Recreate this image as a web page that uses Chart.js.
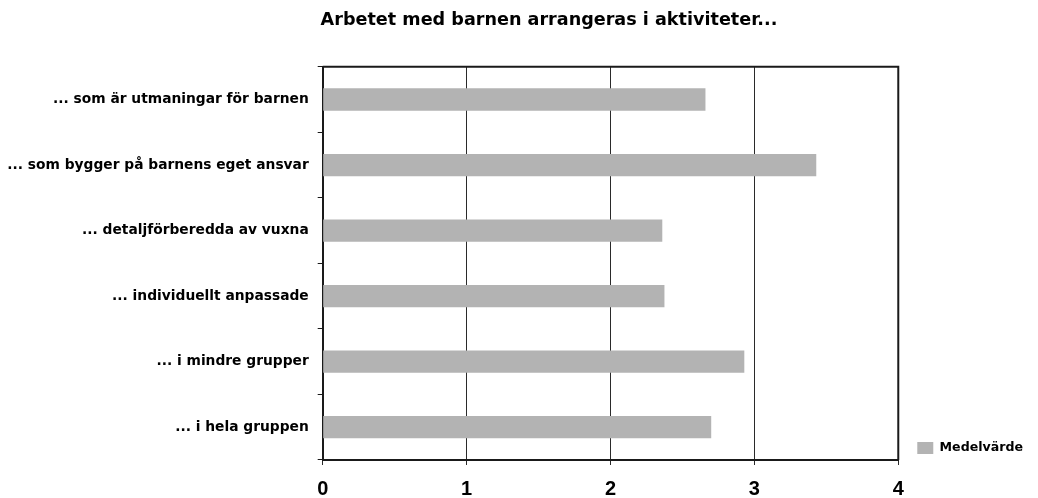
<!DOCTYPE html>
<html>
<head>
<meta charset="utf-8">
<script src="https://cdn.jsdelivr.net/npm/chart.js@4/dist/chart.umd.min.js"></script>
<style>
  html, body { margin: 0; padding: 0; background: #ffffff; }
  #wrap { width: 1038px; height: 498px; position: relative; }
</style>
</head>
<body>
<div id="wrap"><canvas id="c" width="1038" height="498"></canvas></div>
<script>
const chartTitle = "Arbetet med barnen arrangeras i aktiviteter...";
const categories = [
  "... som är utmaningar för barnen",
  "... som bygger på barnens eget ansvar",
  "... detaljförberedda av vuxna",
  "... individuellt anpassade",
  "... i mindre grupper",
  "... i hela gruppen"
];
const seriesName = "Medelvärde";
const medelvarde = [2.66, 3.43, 2.36, 2.375, 2.93, 2.70];
const xTicks = [0, 1, 2, 3, 4];

const FONT = "'DejaVu Sans', sans-serif";
const TICKFONT = "'Liberation Sans', Arial, sans-serif";

const framePlugin = {
  id: 'frame',
  afterDatasetsDraw(chart) {
    const a = chart.chartArea;
    const ctx = chart.ctx;
    ctx.save();
    ctx.strokeStyle = '#1a1a1a';
    ctx.lineWidth = 2;
    ctx.beginPath();
    ctx.moveTo(a.left, a.top);
    ctx.lineTo(a.right, a.top);
    ctx.lineTo(a.right, a.bottom);
    ctx.stroke();
    ctx.restore();
  }
};

const layoutTweaks = {
  id: 'layoutTweaks',
  afterLayout(chart) {
    if (chart.legend) {
      chart.legend.top += 13.3;
      chart.legend.bottom += 13.3;
    }
    if (chart.titleBlock) {
      chart.titleBlock.left += 60;
    }
  }
};

new Chart(document.getElementById('c'), {
  type: 'bar',
  data: {
    labels: categories,
    datasets: [{
      label: seriesName,
      data: medelvarde,
      backgroundColor: '#b3b3b3',
      borderWidth: 0,
      barPercentage: 1,
      categoryPercentage: 0.34
    }]
  },
  options: {
    indexAxis: 'y',
    responsive: false,
    animation: false,
    devicePixelRatio: 1,
    layout: { padding: { left: 5, right: 5, top: 0, bottom: 0 } },
    plugins: {
      title: {
        display: true,
        text: chartTitle,
        color: '#000',
        font: { family: FONT, size: 17.6, weight: 'bold' },
        padding: { top: 10, bottom: 35.6 }
      },
      legend: {
        display: true,
        position: 'right',
        align: 'end',
        fullSize: false,
        maxWidth: 140,
        labels: {
          color: '#000',
          boxWidth: 16,
          boxHeight: 12,
          padding: 19,
          font: { family: FONT, size: 12.6, weight: 'bold' }
        }
      },
      tooltip: { enabled: false }
    },
    scales: {
      x: {
        type: 'linear',
        min: xTicks[0],
        max: xTicks[xTicks.length - 1],
        afterBuildTicks(scale) { scale.ticks = xTicks.map(v => ({ value: v })); },
        afterFit(scale) { scale.height = 38; },
        grid: {
          display: true,
          drawOnChartArea: true,
          drawTicks: true,
          tickLength: 5,
          color: '#2a2a2a',
          lineWidth: 1
        },
        border: { display: true, color: '#1a1a1a', width: 2 },
        ticks: {
          color: '#000',
          padding: 12,
          font: { family: TICKFONT, size: 20, weight: 'bold' }
        }
      },
      y: {
        type: 'category',
        afterFit(scale) { scale.width = 317.7; },
        grid: {
          display: true,
          drawOnChartArea: false,
          drawTicks: true,
          tickLength: 5,
          offset: true,
          color: '#1a1a1a',
          lineWidth: 1
        },
        border: { display: true, color: '#1a1a1a', width: 2 },
        ticks: {
          color: '#000',
          padding: 9,
          font: { family: FONT, size: 13.8, weight: 'bold' }
        }
      }
    }
  },
  plugins: [framePlugin, layoutTweaks]
});
</script>
</body>
</html>
